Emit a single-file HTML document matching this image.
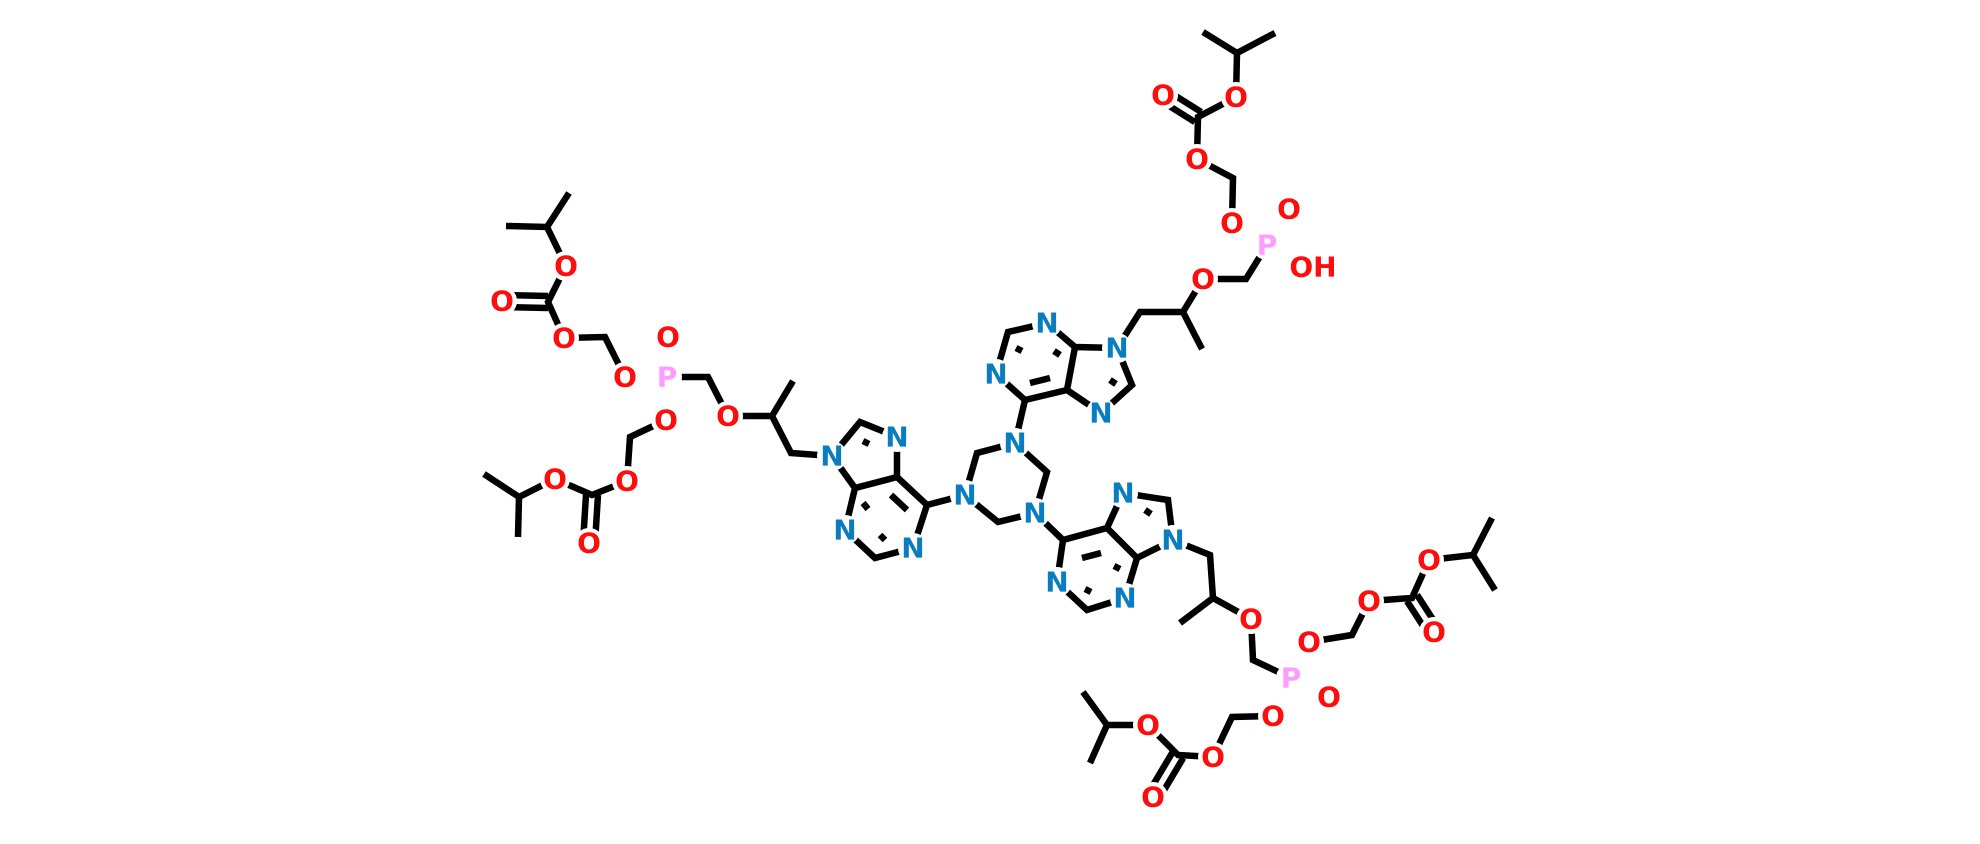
<!DOCTYPE html>
<html><head><meta charset="utf-8"><style>
html,body{margin:0;padding:0;background:#fff;}
svg{display:block;}
text{font-family:"DejaVu Sans","Liberation Sans",sans-serif;font-size:28px;font-weight:bold;text-anchor:middle;dominant-baseline:central;}
.o{fill:#ff0d0d}.n{fill:#0a7dc0}.p{fill:#ff9cff}
</style></head><body>
<svg width="1980" height="844" viewBox="0 0 1980 844" xmlns="http://www.w3.org/2000/svg">
<g stroke="#000" stroke-width="6.5" stroke-linecap="butt" fill="none">
<path d="M569,193 L547,227 L506,226 M547,227 L566,266 L548,302 L564,338 L605,337 L625,377"/>
<path d="M548,296 L502,295 M548,308 L502,307"/>
<path d="M667,377 L708,377 L728,416 L772,416 L793,381 M772,416 L791,453 L832,456"/>
<path d="M666,420 L630,437 L627,481 L592,495 L555,479 L519,497 L484,474 M519,497 L518,537"/>
<path d="M586,495 L583,543 M598,495 L595,543"/>
<path d="M832,456 L860,422 L897,437 L897,477 L855,488 L832,456 M855,488 L845,530 L875,558 L913,548 L927,505 L897,477 M927,505 L965,495"/>
<path d="M891,495 L907,510 M863,503 L868,509 M880,535 L885,540 M863,441 L869,444"/>
<path d="M965,495 L977,453 L1015,443 L1047,472 L1035,513 L998,522 L965,495"/>
<path d="M1025,400 L1015,443 M1063,540 L1035,513"/>
<path d="M1025,400 L1067,390 L1075,347 L1047,323 L1008,332 L996,374 L1025,400 M1075,347 L1117,348 L1132,385 L1101,413 L1067,390"/>
<path d="M1030,383 L1050,378 M1016,348 L1022,351 M1054,351 L1060,355 M1110,380 L1116,384"/>
<path d="M1117,348 L1140,312 L1183,312 L1202,349 M1183,312 L1203,279 L1246,279 L1267,245"/>
<path d="M1232,223 L1233,178 L1197,159 L1198,117 L1236,97 L1237,53 L1203,32 M1237,53 L1275,33"/>
<path d="M1201.2,112 L1166.2,90 M1194.8,122 L1159.8,100"/>
<path d="M1063,540 L1107,528 L1137,558 L1125,598 L1087,610 L1057,582 L1063,540 M1107,528 L1123,493 L1168,500 L1173,540 L1137,558"/>
<path d="M1082,558 L1101,553 M1145,510 L1151,514 M1114,566 L1120,569 M1085,589 L1091,592"/>
<path d="M1173,540 L1210,555 L1213,598 L1180,623 M1213,598 L1251,619 L1253,660 L1291,678"/>
<path d="M1309,642 L1352,635 L1369,601 L1412,598 L1429,560 L1473,555 L1492,518 M1473,555 L1495,590"/>
<path d="M1417,594.8 L1439,628.8 M1407,601.2 L1429,635.2"/>
<path d="M1273,716 L1232,717 L1213,757 L1178,755 L1148,725 L1107,725 L1083,692 M1107,725 L1090,763"/>
<path d="M1183.2,758 L1158.2,800 M1172.8,751.8 L1147.8,793.8"/>
</g>
<g fill="#fff">
<circle cx="566" cy="266" r="15"/><circle cx="502" cy="301" r="15"/><circle cx="564" cy="338" r="15"/><circle cx="625" cy="377" r="15"/><circle cx="667" cy="377" r="15"/><circle cx="668" cy="337" r="15"/><circle cx="728" cy="416" r="15"/><circle cx="666" cy="420" r="15"/><circle cx="627" cy="481" r="15"/><circle cx="589" cy="543" r="15"/><circle cx="555" cy="479" r="15"/>
<circle cx="832" cy="456" r="15"/><circle cx="897" cy="437" r="15"/><circle cx="845" cy="530" r="15"/><circle cx="913" cy="548" r="15"/>
<circle cx="965" cy="495" r="15"/><circle cx="1015" cy="443" r="15"/><circle cx="1035" cy="513" r="15"/>
<circle cx="1047" cy="323" r="15"/><circle cx="996" cy="374" r="15"/><circle cx="1117" cy="348" r="15"/><circle cx="1101" cy="413" r="15"/>
<circle cx="1203" cy="279" r="15"/><circle cx="1267" cy="245" r="15"/><circle cx="1232" cy="223" r="15"/><circle cx="1197" cy="159" r="15"/><circle cx="1163" cy="95" r="15"/><circle cx="1236" cy="97" r="15"/><circle cx="1289" cy="209" r="15"/>
<circle cx="1123" cy="493" r="15"/><circle cx="1173" cy="540" r="15"/><circle cx="1125" cy="598" r="15"/><circle cx="1057" cy="582" r="15"/>
<circle cx="1251" cy="619" r="15"/><circle cx="1291" cy="678" r="15"/><circle cx="1309" cy="642" r="15"/><circle cx="1329" cy="697" r="15"/><circle cx="1369" cy="601" r="15"/><circle cx="1434" cy="632" r="15"/><circle cx="1429" cy="560" r="15"/>
<circle cx="1273" cy="716" r="15"/><circle cx="1213" cy="757" r="15"/><circle cx="1153" cy="797" r="15"/><circle cx="1148" cy="725" r="15"/>
</g>
<g>
<text class="o" x="566" y="266">O</text><text class="o" x="502" y="301">O</text><text class="o" x="564" y="338">O</text><text class="o" x="625" y="377">O</text><text class="p" x="667" y="377">P</text><text class="o" x="668" y="337">O</text><text class="o" x="728" y="416">O</text><text class="o" x="666" y="420">O</text><text class="o" x="627" y="481">O</text><text class="o" x="589" y="543">O</text><text class="o" x="555" y="479">O</text>
<text class="n" x="832" y="456">N</text><text class="n" x="897" y="437">N</text><text class="n" x="845" y="530">N</text><text class="n" x="913" y="548">N</text>
<text class="n" x="965" y="495">N</text><text class="n" x="1015" y="443">N</text><text class="n" x="1035" y="513">N</text>
<text class="n" x="1047" y="323">N</text><text class="n" x="996" y="374">N</text><text class="n" x="1117" y="348">N</text><text class="n" x="1101" y="413">N</text>
<text class="o" x="1203" y="279">O</text><text class="p" x="1267" y="245">P</text><text class="o" x="1232" y="223">O</text><text class="o" x="1197" y="159">O</text><text class="o" x="1163" y="95">O</text><text class="o" x="1236" y="97">O</text><text class="o" x="1289" y="209">O</text><text class="o" x="1313" y="267">OH</text>
<text class="n" x="1123" y="493">N</text><text class="n" x="1173" y="540">N</text><text class="n" x="1125" y="598">N</text><text class="n" x="1057" y="582">N</text>
<text class="o" x="1251" y="619">O</text><text class="p" x="1291" y="678">P</text><text class="o" x="1309" y="642">O</text><text class="o" x="1329" y="697">O</text><text class="o" x="1369" y="601">O</text><text class="o" x="1434" y="632">O</text><text class="o" x="1429" y="560">O</text>
<text class="o" x="1273" y="716">O</text><text class="o" x="1213" y="757">O</text><text class="o" x="1153" y="797">O</text><text class="o" x="1148" y="725">O</text>
</g>
</svg>
</body></html>
